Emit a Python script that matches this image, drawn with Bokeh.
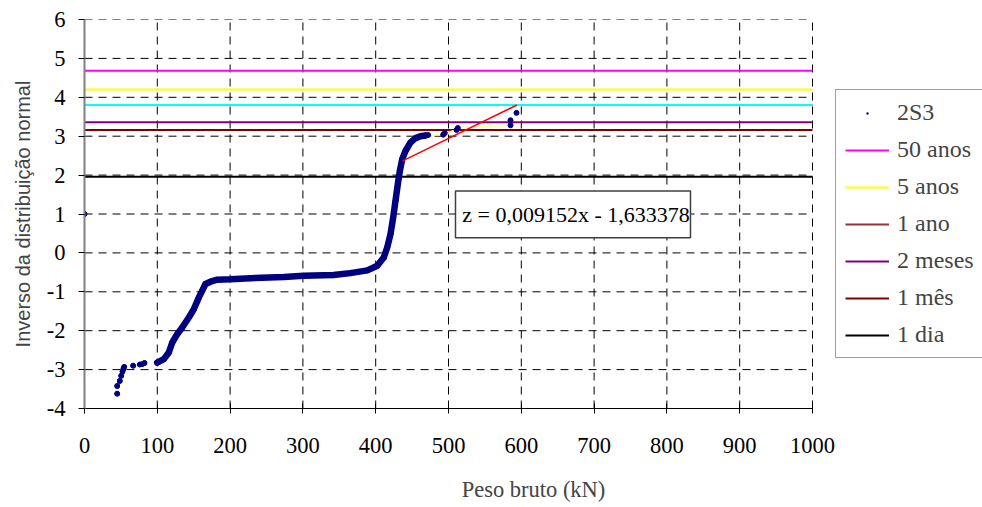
from bokeh.plotting import figure
from bokeh.models import Range1d, FixedTicker, Legend, LegendItem
from bokeh.core.properties import value
from bokeh.embed import file_html
from bokeh.resources import INLINE

# ---- data ----
x_ticks = [0, 100, 200, 300, 400, 500, 600, 700, 800, 900, 1000]
y_ticks = [-4, -3, -2, -1, 0, 1, 2, 3, 4, 5, 6]

# sparse lower-tail points (and the lone point at x=0)
low_x = [0, 44.9, 44.9, 48.5, 50.4, 52.2, 53.5, 54.5, 66.8, 76.0, 79.0, 82.4]
low_y = [1.0, -3.62, -3.42, -3.29, -3.16, -3.05, -2.98, -2.93, -2.90, -2.87, -2.86, -2.83]

# dense body of the sample (read along the plotted band)
dense_x = [99.8, 109.0, 115.8, 120.4, 127.3, 134.2, 143.3, 150.1, 157.0, 166.2, 173.0,
           182.3, 200.5, 228.0, 273.8, 301.0, 342.0, 365.0, 388.5, 402.2, 411.0,
           415.8, 420.3, 424.0, 427.2, 430.4, 433.2, 436.4, 440.9, 447.8, 454.7,
           461.5, 468.4]
dense_y = [-2.82, -2.73, -2.56, -2.31, -2.09, -1.92, -1.66, -1.45, -1.15, -0.80, -0.74,
           -0.69, -0.68, -0.65, -0.62, -0.59, -0.57, -0.52, -0.45, -0.33, -0.12,
           0.14, 0.48, 0.91, 1.34, 1.77, 2.11, 2.41, 2.62, 2.84, 2.95,
           3.00, 3.02]

# sparse upper-tail points
up_x = [468.4, 472.0, 492.7, 494.9, 511.0, 512.8, 585.2, 585.2, 593.4]
up_y = [3.02, 3.03, 3.04, 3.08, 3.16, 3.21, 3.28, 3.41, 3.60]

# fitted line z = 0,009152x - 1,633378
trend_x = [437.0, 594.0]
trend_y = [2.366, 3.803]
equation = "z = 0,009152x - 1,633378"

# return-period levels
level_names = ["50 anos", "5 anos", "1 ano", "2 meses", "1 mês", "1 dia"]
level_values = [4.68, 4.20, 3.80, 3.36, 3.16, 1.96]
level_colors = ["#FF00FF", "#FFFF00", "#00FFFF", "#800080", "#800000", "#000000"]
level_legend_colors = ["#FF00FF", "#FFFF00", "#993333", "#800080", "#800000", "#000000"]

X_MIN, X_MAX = 0, 1000
Y_MIN, Y_MAX = -4, 6

NAVY = "#000080"
SERIF = "Liberation Serif"

# plot frame runs to the right canvas edge so the legend (outside the axes) is not clipped
FRAME_LEFT, FRAME_RIGHT_AXIS, CANVAS_W = 84, 812, 982
x_view_end = X_MAX * (CANVAS_W - FRAME_LEFT) / (FRAME_RIGHT_AXIS - FRAME_LEFT)

p = figure(width=CANVAS_W, height=507, output_backend="svg", toolbar_location=None,
           x_range=Range1d(X_MIN, x_view_end), y_range=Range1d(Y_MIN, Y_MAX),
           min_border_left=FRAME_LEFT, min_border_right=0, min_border_top=19,
           min_border_bottom=99)
p.outline_line_color = None
p.background_fill_color = "white"
p.xgrid.visible = False
p.ygrid.visible = False

# axes
p.xaxis.ticker = FixedTicker(ticks=x_ticks)
p.xaxis.bounds = (X_MIN, X_MAX)
p.yaxis.ticker = FixedTicker(ticks=y_ticks)
p.yaxis.major_label_overrides = {t: str(t) for t in y_ticks}
p.xaxis.minor_tick_line_color = None
p.yaxis.minor_tick_line_color = None
for ax in (p.xaxis[0], p.yaxis[0]):
    ax.major_label_text_font = SERIF
    ax.major_label_text_font_size = "22.5px"
    ax.major_label_text_color = "black"
    ax.major_tick_line_color = "black"

p.xaxis.axis_line_color = "black"
p.xaxis.major_tick_in = 5
p.xaxis.major_tick_out = 5
p.xaxis.major_label_standoff = 24
p.xaxis.axis_label = "Peso bruto (kN)"
p.xaxis.axis_label_text_font = SERIF
p.xaxis.axis_label_text_font_size = "22.5px"
p.xaxis.axis_label_text_font_style = "normal"
p.xaxis.axis_label_standoff = 21

p.yaxis.axis_line_color = "#808080"
p.yaxis.axis_line_width = 2
p.yaxis.major_tick_in = 0
p.yaxis.major_tick_out = 6
p.yaxis.major_label_standoff = 13
p.yaxis.axis_label = "Inverso da distribuição normal"
p.yaxis.axis_label_text_font = "Liberation Sans"
p.yaxis.axis_label_text_font_size = "20px"
p.yaxis.axis_label_text_font_style = "normal"
p.yaxis.axis_label_standoff = 10

# dashed grid, limited to the axes area
gy = [t for t in y_ticks if t != Y_MIN]
gx = [t for t in x_ticks if t != X_MIN]
p.segment(x0=[X_MIN] * len(gy), x1=[X_MAX] * len(gy), y0=gy, y1=gy,
          line_color="black", line_dash="8 6", line_width=1)
p.segment(x0=gx, x1=gx, y0=[Y_MIN] * len(gx), y1=[Y_MAX] * len(gx),
          line_color="black", line_dash="8 6", line_width=1)

# level lines (the "1 ano" legend swatch is drawn beneath its cyan line)
x_span = [X_MIN, X_MAX]
level_renderers = []
for name, v, c, lc in zip(level_names, level_values, level_colors, level_legend_colors):
    if c != lc:
        r = p.line(x_span, [v, v], line_color=lc, line_width=2)
        p.line(x_span, [v, v], line_color=c, line_width=2)
    else:
        r = p.line(x_span, [v, v], line_color=c, line_width=2)
    level_renderers.append(r)

# equation box
p.quad(left=[509.6], right=[832.4], top=[1.59], bottom=[0.39],
       fill_color="white", line_color="#404040", line_width=1.5)
p.text(x=[519], y=[0.99], text=[equation], text_font=value(SERIF),
       text_font_size="22px", text_baseline="middle", text_align="left",
       text_color="black")

# data
p.line(up_x, up_y, line_color="#FFFF99", line_width=1.5)
p.line(dense_x, dense_y, line_color=NAVY, line_width=6.5, line_cap="round", line_join="round")
r_pts = p.scatter(low_x, low_y, marker="dot", size=20, color=NAVY)  # small-dot legend swatch
p.scatter(dense_x, dense_y, marker="circle", size=5, color=NAVY)
p.scatter(low_x, low_y, marker="circle", size=5, color=NAVY)
p.scatter(up_x, up_y, marker="circle", size=5, color=NAVY)
p.line(trend_x, trend_y, line_color="#FF0000", line_width=1.5)

items = [LegendItem(label="2S3", renderers=[r_pts])]
for name, r in zip(level_names, level_renderers):
    items.append(LegendItem(label=name, renderers=[r]))

legend = Legend(items=items, location=(751, 50))
legend.label_text_font = SERIF
legend.label_text_font_size = "24px"
legend.label_height = 24
legend.glyph_height = 24
legend.glyph_width = 44
legend.label_standoff = 8
legend.spacing = 10
legend.padding = 9
legend.margin = 0
legend.border_line_color = "#404040"
legend.border_line_width = 1.5
legend.background_fill_color = "white"
legend.background_fill_alpha = 1.0
p.add_layout(legend)

open("out.html", "w").write(file_html(p, INLINE))
